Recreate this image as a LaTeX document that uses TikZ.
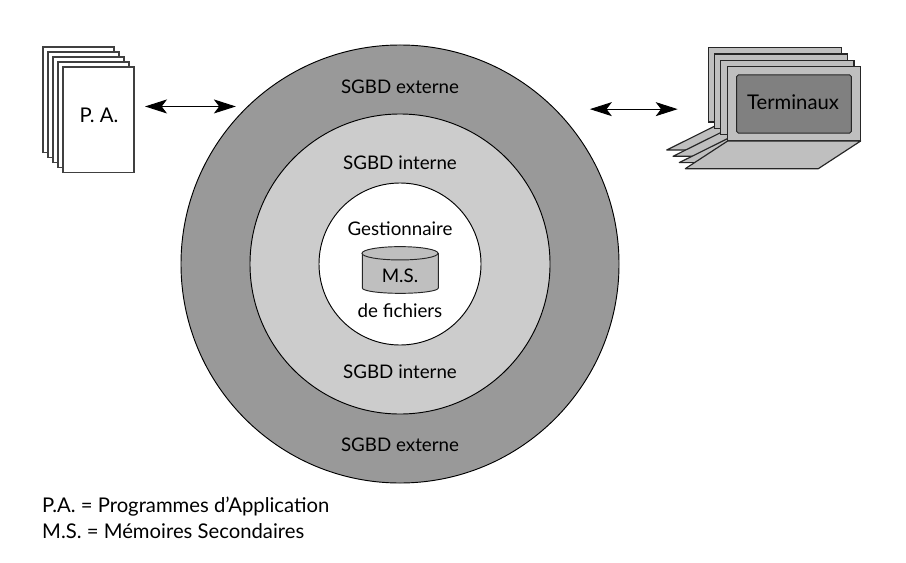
\documentclass[tikz,border=0pt]{standalone}
\usepackage{fontspec}
\setmainfont{Lato}
\usetikzlibrary{arrows.meta,positioning,shapes.geometric}

\begin{document}
\begin{tikzpicture}[
    x=0.03cm, y=-0.03cm,
    ring/.style={circle, draw=black, line width=0.8pt, inner sep=0pt, outer sep=0pt},
    sheet/.style={rectangle, draw=black!75, fill=white, line width=1.2pt, minimum width=2.13cm, minimum height=3.16cm, inner sep=0pt, outer sep=0pt},
    screen/.style={rectangle, draw=black!85, fill=black!25, line width=1pt, minimum width=3.99cm, minimum height=2.23cm, inner sep=0pt, outer sep=0pt},
    display/.style={rectangle, rounded corners=1.5pt, draw=black!85, fill=black!50, line width=0.8pt, minimum width=3.44cm, minimum height=1.75cm},
    desk/.style={draw=black!85, fill=black!25, line width=1pt, line join=round},
    drum/.style={draw=black!85, fill=black!25, line width=0.8pt},
    label/.style={font=\fontsize{16}{19}\selectfont, inner sep=0pt},
    biglabel/.style={font=\fontsize{17.3}{20}\selectfont, inner sep=0pt},
    link/.style={{Stealth[length=0.66cm,width=0.42cm,inset=0.16cm]}-{Stealth[length=0.66cm,width=0.42cm,inset=0.16cm]}, line width=0.8pt}
]
    \useasboundingbox (0,0) rectangle (906,562);

    % Rings
    \node[ring, fill=black!40, minimum size=13.14cm] (outer) at (400,264) {};
    \node[ring, fill=black!20, minimum size=9cm] (middle) at (400,264) {};
    \node[ring, fill=white, minimum size=4.86cm] (core) at (400,264) {};

    % Ring labels
    \node[label] (exttop) at (400,87) {SGBD externe};
    \node[label] (inttop) at (400,163) {SGBD interne};
    \node[label] (gest) at (400,229) {Gestionnaire};
    \node[label] (fich) at (400,311) {de fichiers};
    \node[label] (intbot) at (400,372) {SGBD interne};
    \node[label] (extbot) at (400,445) {SGBD externe};

    % Disk
    \draw[drum] (362.3,253.3) -- (362.3,288) arc[start angle=180, end angle=360, x radius=1.14cm, y radius=0.16cm] -- (438.3,253.3) -- cycle;
    \draw[drum] (400,253.3) ellipse[x radius=1.14cm, y radius=0.2cm];
    \node[label] (disktext) at (400,276) {M.S.};

    % Application programs
    \node[sheet] (pae) at (78.5,99.7) {};
    \node[sheet] (pad) at (83.5,104.7) {};
    \node[sheet] (pac) at (88.5,109.7) {};
    \node[sheet] (pab) at (93.5,114.7) {};
    \node[sheet] (paa) at (98.5,119.7) {};
    \node[biglabel] (patext) at (99,115) {P. A.};

    % Terminals, back to front
    \draw[desk] (723,122) -- (835.5,122) -- (799.3,150) -- (666.7,150) -- cycle;
    \node[screen] (termd) at (774.7,84.9) {};
    \draw[desk] (729.3,128.3) -- (841.8,128.3) -- (805.6,156.3) -- (673,156.3) -- cycle;
    \node[screen] (termc) at (781,91.2) {};
    \draw[desk] (735.6,134.6) -- (848.1,134.6) -- (811.9,162.6) -- (679.3,162.6) -- cycle;
    \node[screen] (termb) at (787.4,97.5) {};
    \node[screen] (terma) at (794.2,103.8) {};
    \draw[desk] (terma.south west) -- (terma.south east) -- ++(-42.4,27.7) -- ++(-133,0) -- cycle;
    \node[display] (term) at (794,104) {};
    \node[biglabel] (termtext) at (793,102) {Terminaux};

    % Links
    \coordinate (lgap) at ([shift={(11,0)}]paa.east);
    \coordinate (rgap) at ([shift={(-50,0)}]terma.west);
    \draw[link] (lgap |- outer.134.1) -- ([shift={(-12,0)}]outer.134.1);
    \draw[link] ([shift={(35,0)}]outer.45.9) -- (rgap |- outer.45.9);

    % Legend
    \node[biglabel, anchor=west] (legpa) at (42,507) {P.A. = Programmes d'Application};
    \node[biglabel, anchor=west] (legms) at (42,531) {M.S. = Mémoires Secondaires};
\end{tikzpicture}
\end{document}
